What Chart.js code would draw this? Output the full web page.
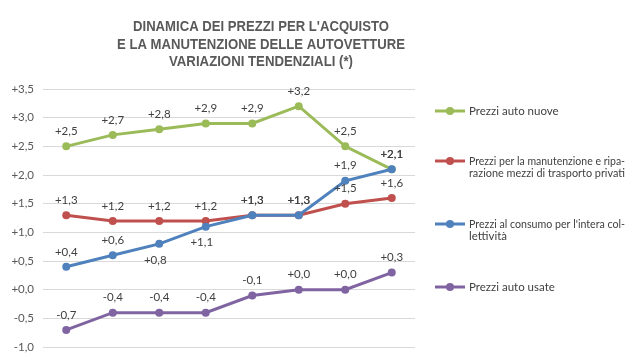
<!DOCTYPE html>
<html>
<head>
<meta charset="utf-8">
<script src="https://cdn.jsdelivr.net/npm/chart.js@4/dist/chart.umd.min.js"></script>
<style>
  html, body { margin: 0; padding: 0; background: #fff; }
  #wrap { width: 640px; height: 363px; position: relative; }
</style>
</head>
<body>
<div id="wrap"><canvas id="chart"></canvas></div>
<script>
// data
const periods = ['1', '2', '3', '4', '5', '6', '7', '8'];
const autoNuove = [2.5, 2.7, 2.8, 2.9, 2.9, 3.2, 2.5, 2.1];
const manutenzione = [1.3, 1.2, 1.2, 1.2, 1.3, 1.3, 1.5, 1.6];
const collettivita = [0.4, 0.6, 0.8, 1.1, 1.3, 1.3, 1.9, 2.1];
const autoUsate = [-0.7, -0.4, -0.4, -0.4, -0.1, 0.0, 0.0, 0.3];

const titleLines = [
    "DINAMICA DEI PREZZI PER L'ACQUISTO",
    "E LA MANUTENZIONE DELLE AUTOVETTURE",
    "VARIAZIONI TENDENZIALI (*)"
];
const legendLines = [
    ['Prezzi auto nuove'],
    ['Prezzi per la manutenzione e ripa-', 'razione mezzi di trasporto privati'],
    ["Prezzi al consumo per l'intera col-", 'lettività'],
    ['Prezzi auto usate']
];

const fmt = v => (v >= 0 ? '+' : '') + v.toFixed(1).replace('.', ',');

// which point labels sit under the point instead of over it
const labelsBelow = { 2: [2, 3] };

const valueLabels = {
    id: 'valueLabels',
    afterDatasetsDraw(chart) {
        const ctx = chart.ctx;
        ctx.save();
        ctx.font = '11.5px Lato, "Open Sans", sans-serif';
        ctx.fillStyle = '#404040';
        ctx.textAlign = 'center';
        ctx.textBaseline = 'middle';
        chart.data.datasets.forEach((ds, di) => {
            const meta = chart.getDatasetMeta(di);
            const below = labelsBelow[di] || [];
            meta.data.forEach((pt, i) => {
                const dy = below.includes(i) ? 16 : -15;
                ctx.fillText(fmt(ds.data[i]), pt.x - (below.includes(i) ? 4 : 0), pt.y + dy);
            });
        });
        ctx.restore();
    }
};

const deco = {
    id: 'deco',
    afterDraw(chart) {
        const ctx = chart.ctx;
        ctx.save();
        // title
        ctx.font = 'bold 15.5px "Liberation Sans", Arial, sans-serif';
        ctx.fillStyle = '#595959';
        ctx.textAlign = 'center';
        ctx.textBaseline = 'middle';
        const widths = [256, 288, 184];
        titleLines.forEach((t, i) => ctx.fillText(t, 261, 27 + i * 17.5, widths[i]));

        // legend
        const ys = [111, 161, 224, 287];
        ctx.font = '11.5px Lato, "Open Sans", sans-serif';
        ctx.textAlign = 'left';
        chart.data.datasets.forEach((ds, i) => {
            const y = ys[i];
            ctx.strokeStyle = ds.borderColor;
            ctx.lineWidth = 3;
            ctx.beginPath();
            ctx.moveTo(435, y);
            ctx.lineTo(465, y);
            ctx.stroke();
            ctx.fillStyle = ds.borderColor;
            ctx.beginPath();
            ctx.arc(450, y, 4, 0, Math.PI * 2);
            ctx.fill();
            ctx.fillStyle = '#404040';
            legendLines[i].forEach((l, k) => ctx.fillText(l, 469, y + k * 12.5, 156));
        });
        ctx.restore();
    }
};

const mkSet = (label, data, color, order) => ({
    label: label,
    data: data,
    borderColor: color,
    backgroundColor: color,
    borderWidth: 3,
    pointRadius: 4,
    pointBorderWidth: 0,
    tension: 0,
    order: order
});

new Chart(document.getElementById('chart'), {
    type: 'line',
    data: {
        labels: periods,
        datasets: [
            mkSet(legendLines[0].join(''), autoNuove, '#9BBB59', 2),
            mkSet(legendLines[1].join(''), manutenzione, '#C0504D', 1),
            mkSet(legendLines[2].join(''), collettivita, '#4F81BD', 0),
            mkSet(legendLines[3].join(''), autoUsate, '#8064A2', 3)
        ]
    },
    options: {
        responsive: true,
        maintainAspectRatio: false,
        animation: false,
        layout: { padding: { top: 89, right: 225, bottom: 12, left: 0 } },
        plugins: {
            legend: { display: false },
            title: { display: false },
            tooltip: { enabled: false }
        },
        scales: {
            x: { display: false, offset: true },
            y: {
                min: -1,
                max: 3.5,
                afterFit: s => { s.width = 43; },
                border: { display: false },
                grid: { color: '#d9d9d9', drawTicks: false },
                ticks: {
                    stepSize: 0.5,
                    padding: 9,
                    color: '#595959',
                    font: { family: 'Lato, "Open Sans", sans-serif', size: 11.5 },
                    callback: v => fmt(v)
                }
            }
        }
    },
    plugins: [valueLabels, deco]
});
</script>
</body>
</html>
